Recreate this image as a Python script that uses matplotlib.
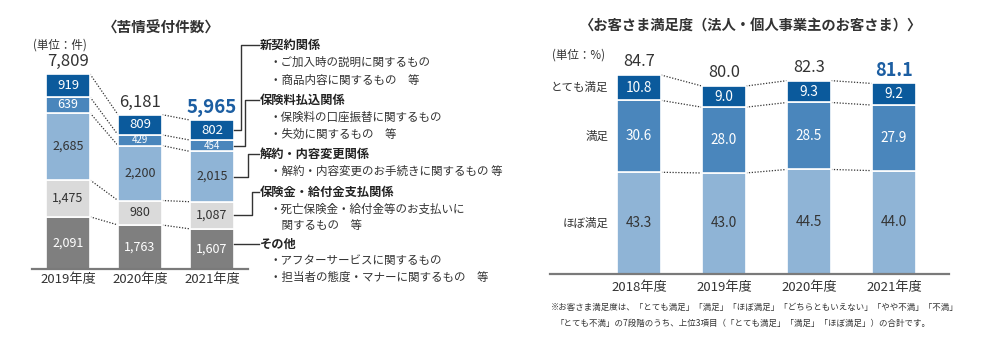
import matplotlib
matplotlib.use("Agg")
import matplotlib.pyplot as plt
from matplotlib.lines import Line2D
import numpy as np

plt.rcParams['font.family'] = ['Noto Sans CJK JP', 'DejaVu Sans']

# ---------------- data ----------------
c_years = ["2019年度", "2020年度", "2021年度"]
c_other = [2091, 1763, 1607]        # その他
c_benefit = [1475, 980, 1087]       # 保険金・給付金支払関係
c_cancel = [2685, 2200, 2015]       # 解約・内容変更関係
c_premium = [639, 429, 454]         # 保険料払込関係
c_new = [919, 809, 802]             # 新契約関係
c_totals = ["7,809", "6,181", "5,965"]

c_heads = ["新契約関係", "保険料払込関係", "解約・内容変更関係", "保険金・給付金支払関係", "その他"]
c_items = [["・ご加入時の説明に関するもの", "・商品内容に関するもの　等"],
           ["・保険料の口座振替に関するもの", "・失効に関するもの　等"],
           ["・解約・内容変更のお手続きに関するもの 等"],
           ["・死亡保険金・給付金等のお支払いに", "　関するもの　等"],
           ["・アフターサービスに関するもの", "・担当者の態度・マナーに関するもの　等"]]

s_years = ["2018年度", "2019年度", "2020年度", "2021年度"]
s_mostly = [43.3, 43.0, 44.5, 44.0]   # ほぼ満足
s_sat = [30.6, 28.0, 28.5, 27.9]      # 満足
s_very = [10.8, 9.0, 9.3, 9.2]        # とても満足
s_totals = ["84.7", "80.0", "82.3", "81.1"]
s_cats = ["ほぼ満足", "満足", "とても満足"]

W, H = 1004, 337
fig = plt.figure(figsize=(W / 100, H / 100), dpi=100)
fig.patch.set_facecolor("white")

def fx(x):
    return x / W

def fy(y):
    return 1 - y / H

DARK = "#0b5a9c"
MID = "#4a86bc"
LIGHT = "#8fb4d6"
LGREY = "#dadada"
DGREY = "#7f7f7f"
TXT = "#333333"
BLUE_T = "#1c5ea2"

def to_fig(ax, x, y):
    d = ax.transData.transform((x, y))
    return fig.transFigure.inverted().transform(d)

def style_ax(ax):
    for s in ["left", "right", "top"]:
        ax.spines[s].set_visible(False)
    ax.spines["bottom"].set_color("#7a7a7a")
    ax.spines["bottom"].set_linewidth(1.6)
    ax.set_yticks([])
    ax.tick_params(axis="x", length=0, pad=3, labelsize=9.5, labelcolor=TXT)
    ax.set_facecolor("none")

def dotted(ax, xs, ys):
    ax.plot(xs, ys, color="#333333", lw=0.9, linestyle=(0, (1, 1.3)), zorder=1)

# ---------------- left chart ----------------
ax1 = fig.add_axes([fx(32), fy(269), fx(216), (269 - 60) / H])
style_ax(ax1)
x1 = np.arange(len(c_years))
w1 = 44 / 72
ax1.set_xlim(-0.5, 2.5)
ax1.set_ylim(0, 209 / 0.024971)

layers1 = [(c_other, DGREY, "white", 9),
           (c_benefit, LGREY, TXT, 9),
           (c_cancel, LIGHT, TXT, 9),
           (c_premium, MID, "white", 9),
           (c_new, DARK, "white", 9.5)]
bottom = np.zeros(len(c_years))
bounds1 = []
centers1 = []
for vals, col, tcol, fs in layers1:
    v = np.array(vals, dtype=float)
    ax1.bar(x1, v, w1, bottom=bottom, color=col, edgecolor="white", linewidth=1.2, zorder=2)
    for i in range(len(x1)):
        size = fs
        if v[i] < 500:
            size = 7
        ax1.text(x1[i], bottom[i] + v[i] / 2, f"{int(v[i]):,}", ha="center", va="center",
                 color=tcol, fontsize=size, zorder=3)
    centers1.append(bottom + v / 2)
    bottom = bottom + v
    bounds1.append(bottom.copy())
for b in bounds1:
    for i in range(len(x1) - 1):
        dotted(ax1, [x1[i] + w1 / 2, x1[i + 1] - w1 / 2], [b[i], b[i + 1]])
for i in range(len(x1)):
    last = i == len(x1) - 1
    ax1.annotate(c_totals[i], (x1[i], bottom[i]), xytext=(0, 9), textcoords="offset points",
                 ha="center", va="center", fontsize=13.5 if last else 12,
                 fontweight="bold" if last else "normal", color=BLUE_T if last else TXT)
ax1.set_xticks(x1)
ax1.set_xticklabels(c_years)

fig.text(fx(161), fy(28), "〈苦情受付件数〉", ha="center", va="center", fontsize=10.5,
         fontweight="bold", color=TXT)
fig.text(fx(33), fy(45), "(単位：件)", ha="left", va="center", fontsize=8.3, color=TXT)

# bracket lines and descriptions
head_y = [45, 100, 154, 192, 244]
elbow_x = [241, 245, 248, 252, 252]
item_y = [[62, 80], [117, 134], [171], [209, 225], [260, 277]]
order = [4, 3, 2, 1, 0]  # layer index for each head (top to bottom)
for k in range(5):
    li = order[k]
    sx, sy = to_fig(ax1, x1[-1] + w1 / 2, centers1[li][-1])
    ex = fx(elbow_x[k])
    hy = fy(head_y[k])
    if k == 4:
        xs = [sx, fx(259)]
        ys = [hy, hy]
    else:
        xs = [sx, ex, ex, fx(259)]
        ys = [sy, sy, hy, hy]
    fig.add_artist(Line2D(xs, ys, transform=fig.transFigure, color="#333333", lw=1.0))
    fig.text(fx(260), hy, c_heads[k], ha="left", va="center", fontsize=8.8,
             fontweight="bold", color="#222222")
    for j, t in enumerate(c_items[k]):
        fig.text(fx(270), fy(item_y[k][j]), t, ha="left", va="center", fontsize=8.3, color=TXT)

# ---------------- right chart ----------------
ax2 = fig.add_axes([fx(550), fy(274), fx(399), (274 - 50) / H])
style_ax(ax2)
x2 = np.arange(len(s_years))
w2 = 44 / 85
ax2.set_xlim((550 - 639) / 85, (949 - 639) / 85)
ax2.set_ylim(0, 224 / 2.3495)

layers2 = [(s_mostly, LIGHT, TXT), (s_sat, MID, "white"), (s_very, DARK, "white")]
bottom = np.zeros(len(s_years))
bounds2 = []
for li, (vals, col, tcol) in enumerate(layers2):
    v = np.array(vals)
    ax2.bar(x2, v, w2, bottom=bottom, color=col, edgecolor="white", linewidth=1.2, zorder=2)
    for i in range(len(x2)):
        ax2.text(x2[i], bottom[i] + v[i] / 2, f"{v[i]:.1f}", ha="center", va="center",
                 color=tcol, fontsize=9.8, zorder=3)
    ax2.annotate(s_cats[li], (x2[0] - w2 / 2, bottom[0] + v[0] / 2), xytext=(-6, 0),
                 textcoords="offset points", ha="right", va="center", fontsize=8.3, color=TXT)
    bottom = bottom + v
    bounds2.append(bottom.copy())
for b in bounds2:
    for i in range(len(x2) - 1):
        dotted(ax2, [x2[i] + w2 / 2, x2[i + 1] - w2 / 2], [b[i], b[i + 1]])
for i in range(len(x2)):
    last = i == len(x2) - 1
    ax2.annotate(s_totals[i], (x2[i], bottom[i]), xytext=(0, 9.5), textcoords="offset points",
                 ha="center", va="center", fontsize=13 if last else 11.8,
                 fontweight="bold" if last else "normal", color=BLUE_T if last else TXT)
ax2.set_xticks(x2)
ax2.set_xticklabels(s_years)
ax2.tick_params(axis="x", pad=5)

fig.text(fx(751), fy(27), "〈お客さま満足度（法人・個人事業主のお客さま）〉", ha="center", va="center",
         fontsize=10.3, fontweight="bold", color=TXT)
fig.text(fx(552), fy(55), "(単位：%)", ha="left", va="center", fontsize=8.3, color=TXT)
fig.text(fx(551), fy(307), "※お客さま満足度は、「とても満足」「満足」「ほぼ満足」「どちらともいえない」「やや不満」「不満」",
         ha="left", va="center", fontsize=6.1, color=TXT)
fig.text(fx(556), fy(323), "「とても不満」の7段階のうち、上位3項目（「とても満足」「満足」「ほぼ満足」）の合計です。",
         ha="left", va="center", fontsize=6.1, color=TXT)

fig.savefig("out.png", dpi=100, facecolor="white")
